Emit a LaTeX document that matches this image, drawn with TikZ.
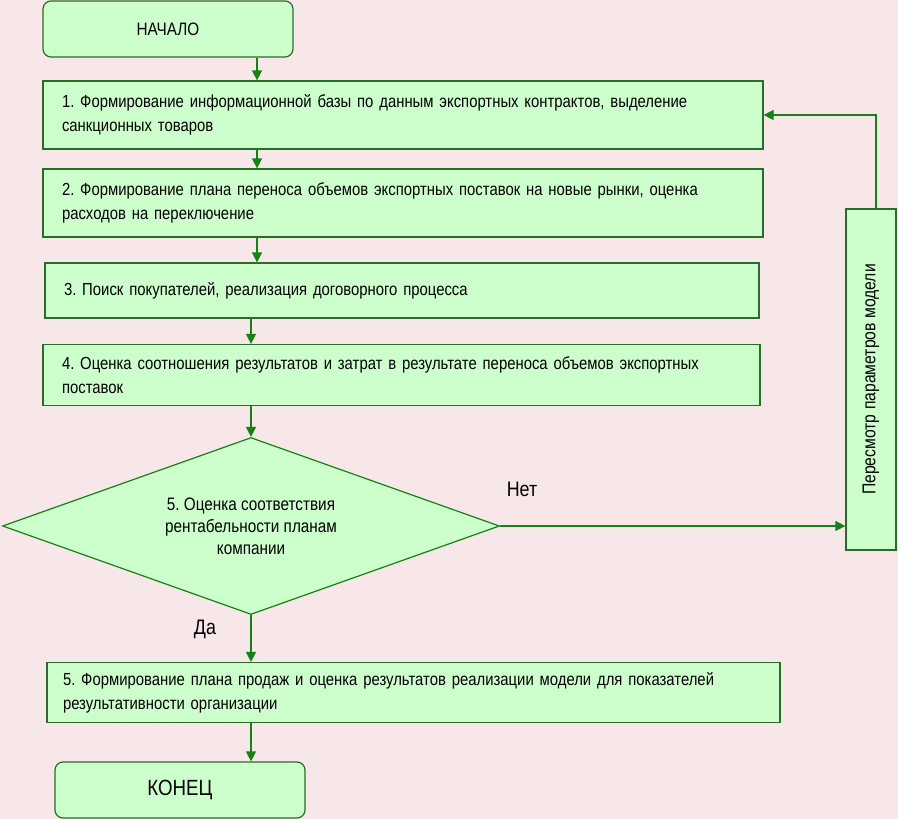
\documentclass[tikz,border=0pt]{standalone}
\usepackage{fontspec}
\setmainfont[FakeStretch=0.85]{Liberation Sans}
\usetikzlibrary{shapes.geometric,arrows.meta}

\definecolor{fond}{RGB}{247,231,233}
\definecolor{vertclair}{RGB}{204,255,204}
\definecolor{vertbord}{RGB}{40,110,40}
\definecolor{vertfleche}{RGB}{20,130,20}

\tikzset{Terminal/.style={draw=vertbord,fill=vertclair,line width=1.2pt,rounded corners=8pt,minimum width=250pt,minimum height=56pt,inner sep=0pt,font=\fontsize{18}{20}\selectfont}}
\tikzset{Bloc/.style={draw=vertbord,fill=vertclair,line width=1.2pt,rectangle,inner xsep=19pt,inner ysep=0pt,align=left,font=\fontsize{17.5}{24}\selectfont}}
\tikzset{Test/.style={draw=vertfleche,fill=vertclair,line width=1.2pt,diamond,aspect=2.81,minimum width=497pt,minimum height=177pt,inner sep=0pt,align=center,font=\fontsize{18}{22}\selectfont}}
\tikzset{Fleche/.style={draw=vertfleche,line width=1.2pt,-{Triangle[length=10pt,width=10pt]}}}

\begin{document}
\frenchspacing
\begin{tikzpicture}[x=1pt,y=-1pt]

\fill[fond] (0,0) rectangle (898,819);

\coordinate (axe) at (257,0);

\node[Terminal] (debut) at (168,29) {НАЧАЛО};

\node[Bloc,minimum width=720pt,minimum height=68pt,text width=682pt] (e1) at (403,115) {1. Формирование информационной базы по данным экспортных контрактов, выделение\\санкционных товаров};
\node[Bloc,minimum width=720pt,minimum height=68pt,text width=682pt] (e2) at (403,203) {2. Формирование плана переноса объемов экспортных поставок на новые рынки, оценка\\расходов на переключение};
\node[Bloc,minimum width=714pt,minimum height=55pt,text width=676pt,inner xsep=17pt] (e3) at (402,290.5) {3. Поиск покупателей, реализация договорного процесса};
\node[Bloc,minimum width=717pt,minimum height=61pt,text width=679pt] (e4) at (401.5,375) {4. Оценка соотношения результатов и затрат в результате переноса объемов экспортных\\поставок};

\node[Test] (test) at (251,526) {5. Оценка соответствия\\рентабельности планам\\компании};

\node[Bloc,minimum width=50pt,minimum height=341pt,inner sep=0pt,align=center,font=\fontsize{18.5}{20}\selectfont] (revue) at (871,379.5) {\rotatebox{90}{Пересмотр параметров модели}};

\node[Bloc,minimum width=733pt,minimum height=60pt,text width=701pt,inner xsep=16pt] (e5) at (413.5,692.5) {5. Формирование плана продаж и оценка результатов реализации модели для показателей\\результативности организации};

\node[Terminal,font=\fontsize{22}{26}\selectfont] (fin) at (180,790) {КОНЕЦ};

\node[font=\fontsize{21}{24}\selectfont] (non) at (522,489) {Нет};
\node[font=\fontsize{21}{24}\selectfont] (oui) at (205,629) {Да};

\draw[Fleche] (debut.south -| axe) -- (e1.north -| axe);
\draw[Fleche] (e1.south -| axe) -- (e2.north -| axe);
\draw[Fleche] (e2.south -| axe) -- (e3.north -| axe);
\draw[Fleche] (e3.south -| test) -- (e4.north -| test);
\draw[Fleche] (e4.south -| test) -- (test.north);
\draw[Fleche] (test.south) -- (e5.north -| test);
\draw[Fleche] (e5.south -| test) -- (fin.north -| test);
\draw[Fleche] (test.east) -- (test.east -| revue.west);
\draw[Fleche] ([xshift=5pt]revue.north) |- (e1.east);

\end{tikzpicture}
\end{document}
